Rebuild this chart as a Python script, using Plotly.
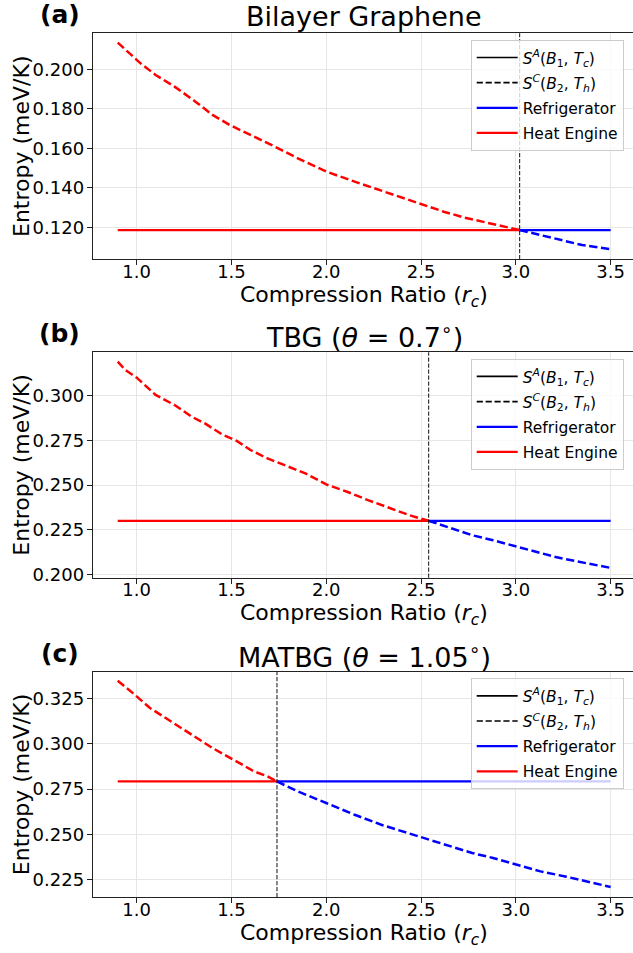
import plotly.graph_objects as go

# ---------------- data ----------------
# Panel (a) Bilayer Graphene
rc_cross_a = 3.02
S_A_a = 0.1186
rc_a_heat = [0.90, 0.96, 1.02, 1.10, 1.20, 1.31, 1.40, 1.49, 1.62, 1.73, 1.85, 2.00,
             2.15, 2.28, 2.40, 2.51, 2.62, 2.73, 2.84, 2.95, 3.02]
S_C_a_heat = [0.2135, 0.2081, 0.2030, 0.1971, 0.1912, 0.1836, 0.1769, 0.1718, 0.1659,
              0.1608, 0.1549, 0.1482, 0.1431, 0.1389, 0.1347, 0.1313, 0.1279, 0.1249,
              0.1224, 0.1200, 0.1186]
rc_a_ref = [3.02, 3.13, 3.24, 3.35, 3.50]
S_C_a_ref = [0.1186, 0.1161, 0.1136, 0.1110, 0.1089]

# Panel (b) TBG 0.7 deg
rc_cross_b = 2.54
S_A_b = 0.2300
rc_b_heat = [0.90, 0.94, 1.00, 1.10, 1.20, 1.29, 1.36, 1.45, 1.53, 1.60, 1.69, 1.78,
             1.89, 2.00, 2.11, 2.22, 2.33, 2.44, 2.54]
S_C_b_heat = [0.3193, 0.3146, 0.3103, 0.3006, 0.2949, 0.2884, 0.2846, 0.2785, 0.2747,
              0.2697, 0.2650, 0.2612, 0.2566, 0.2504, 0.2463, 0.2416, 0.2373, 0.2331,
              0.2300]
rc_b_ref = [2.54, 2.66, 2.77, 2.88, 2.99, 3.10, 3.21, 3.32, 3.41, 3.50]
S_C_b_ref = [0.2300, 0.2257, 0.2219, 0.2191, 0.2160, 0.2125, 0.2097, 0.2073, 0.2053, 0.2036]

# Panel (c) MATBG 1.05 deg
rc_cross_c = 1.74
S_A_c = 0.2792
rc_c_heat = [0.90, 0.98, 1.07, 1.18, 1.31, 1.40, 1.51, 1.62, 1.69, 1.74]
S_C_c_heat = [0.3347, 0.3279, 0.3197, 0.3123, 0.3040, 0.2976, 0.2912, 0.2847, 0.2820, 0.2792]
rc_c_ref = [1.74, 1.85, 2.00, 2.15, 2.29, 2.40, 2.51, 2.66, 2.77, 2.88, 3.01, 3.13,
            3.26, 3.37, 3.50]
S_C_c_ref = [0.2792, 0.2737, 0.2673, 0.2608, 0.2553, 0.2517, 0.2480, 0.2434, 0.2397,
             0.2370, 0.2333, 0.2296, 0.2268, 0.2241, 0.2210]

rc_min, rc_max = 0.90, 3.50

titles = ["Bilayer Graphene", "TBG (<i>θ</i> = 0.7<sup>∘</sup>)", "MATBG (<i>θ</i> = 1.05<sup>∘</sup>)"]
panel_labels = ["(a)", "(b)", "(c)"]
x_tickvals = [1.0, 1.5, 2.0, 2.5, 3.0, 3.5]
y_tickvals_a = [0.120, 0.140, 0.160, 0.180, 0.200]
y_tickvals_b = [0.200, 0.225, 0.250, 0.275, 0.300]
y_tickvals_c = [0.225, 0.250, 0.275, 0.300, 0.325]

legend_names = [
    "<i>S</i><sup><i>A</i></sup>(<i>B</i><sub>1</sub>, <i>T</i><sub><i>c</i></sub>)",
    "<i>S</i><sup><i>C</i></sup>(<i>B</i><sub>2</sub>, <i>T</i><sub><i>h</i></sub>)",
    "Refrigerator",
    "Heat Engine",
]
x_title = "Compression Ratio (<i>r</i><sub><i>c</i></sub>)"
y_title = "Entropy (meV/K)"

# ---------------- layout geometry ----------------
W, H = 633, 953
FONT = "DejaVu Sans"
ax_left = 92.7
x_range = [0.768, 3.618]
panel_px = [(33.3, 259.3), (352.3, 577.7), (671.7, 897.3)]
y_ranges = [[0.1038, 0.2182], [0.1981, 0.3245], [0.2153, 0.3397]]
y_ticks = [y_tickvals_a, y_tickvals_b, y_tickvals_c]
ax_center_x = 364.0


def fy(p):
    return 1 - p / H


panels = [
    (rc_cross_a, S_A_a, rc_a_heat, S_C_a_heat, rc_a_ref, S_C_a_ref),
    (rc_cross_b, S_A_b, rc_b_heat, S_C_b_heat, rc_b_ref, S_C_b_ref),
    (rc_cross_c, S_A_c, rc_c_heat, S_C_c_heat, rc_c_ref, S_C_c_ref),
]

RED = "#ff0000"
BLUE = "#0000ff"

fig = go.Figure()
layout = dict(
    width=W, height=H,
    margin=dict(l=0, r=0, t=0, b=0, autoexpand=False),
    paper_bgcolor="white", plot_bgcolor="white",
    font=dict(family=FONT, color="black"),
    showlegend=True,
)
annotations = []
shapes = []

for i, (rcx, sa, rh, sh, rr, sr) in enumerate(panels):
    n = i + 1
    xa = "x" if n == 1 else f"x{n}"
    ya = "y" if n == 1 else f"y{n}"
    lg = "legend" if n == 1 else f"legend{n}"
    top, bot = panel_px[i]

    # legend-only black entries
    fig.add_trace(go.Scatter(x=[None], y=[None], mode="lines", name=legend_names[0],
                             legendgroup=f"sa{n}",
                             line=dict(color="black", width=1.7),
                             xaxis=xa, yaxis=ya, legend=lg))
    fig.add_trace(go.Scatter(x=[None], y=[None], mode="lines", name=legend_names[1],
                             legendgroup=f"sc{n}",
                             line=dict(color="black", width=1.7, dash="6.2px,2.7px"),
                             xaxis=xa, yaxis=ya, legend=lg))
    # horizontal S^A lines
    fig.add_trace(go.Scatter(x=[rcx, rc_max], y=[sa, sa], mode="lines", name=legend_names[2],
                             legendgroup=f"ref{n}",
                             line=dict(color=BLUE, width=2.3),
                             xaxis=xa, yaxis=ya, legend=lg))
    fig.add_trace(go.Scatter(x=[rc_min, rcx], y=[sa, sa], mode="lines", name=legend_names[3],
                             legendgroup=f"heat{n}",
                             line=dict(color=RED, width=2.3),
                             xaxis=xa, yaxis=ya, legend=lg))
    # dashed S^C curves
    fig.add_trace(go.Scatter(x=rh, y=sh, mode="lines", showlegend=False,
                             legendgroup=f"heat{n}",
                             line=dict(color=RED, width=2.5, dash="8.3px,3.6px"),
                             xaxis=xa, yaxis=ya, legend=lg))
    fig.add_trace(go.Scatter(x=rr, y=sr, mode="lines", showlegend=False,
                             legendgroup=f"ref{n}",
                             line=dict(color=BLUE, width=2.5, dash="8.3px,3.6px"),
                             xaxis=xa, yaxis=ya, legend=lg))

    xkey = "xaxis" if n == 1 else f"xaxis{n}"
    ykey = "yaxis" if n == 1 else f"yaxis{n}"
    layout[xkey] = dict(
        domain=[ax_left / W, 1.0], range=x_range, anchor=ya, automargin=False,
        tickvals=x_tickvals, tickformat=".1f",
        ticks="outside", ticklen=5, tickwidth=1, tickcolor="#222",
        ticklabelstandoff=-9,
        showline=True, linecolor="#222", linewidth=1, mirror=True,
        showgrid=True, gridcolor="#e6e6e6", gridwidth=1, zeroline=False,
        tickfont=dict(size=18, family=FONT, color="black"),
    )
    layout[ykey] = dict(
        domain=[fy(bot), fy(top)], range=y_ranges[i], anchor=xa, automargin=False,
        tickvals=y_ticks[i], tickformat=".3f",
        ticks="outside", ticklen=5, tickwidth=1, tickcolor="#222",
        ticklabelstandoff=-1,
        showline=True, linecolor="#222", linewidth=1, mirror=False,
        showgrid=True, gridcolor="#e6e6e6", gridwidth=1, zeroline=False,
        tickfont=dict(size=18, family=FONT, color="black"),
    )
    layout[lg] = dict(
        x=470.7 / W, y=fy(top + 6.6), xanchor="left", yanchor="top",
        xref="paper", yref="paper",
        bgcolor="rgba(255,255,255,0.8)", bordercolor="#cccccc", borderwidth=1,
        font=dict(size=15.5, family=FONT, color="black"),
        itemwidth=41, tracegroupgap=2, traceorder="grouped",
    )

    shapes.append(dict(type="line", xref=xa, yref=f"{ya} domain",
                       x0=rcx, x1=rcx, y0=0, y1=1,
                       line=dict(color="rgba(0,0,0,0.85)", width=1.1, dash="4.2px,1.8px")))

    # title
    annotations.append(dict(text=titles[i], x=ax_center_x / W, y=fy(top - 16.6),
                            xref="paper", yref="paper", xanchor="center", yanchor="middle",
                            showarrow=False, font=dict(size=27, family=FONT, color="black")))
    # panel label
    annotations.append(dict(text=f"<b>{panel_labels[i]}</b>", x=60.0 / W, y=fy(top - 18.7),
                            xref="paper", yref="paper", xanchor="center", yanchor="middle",
                            showarrow=False, font=dict(size=25, family=FONT, color="black")))
    # x title
    annotations.append(dict(text=x_title, x=ax_center_x / W, y=fy(bot + 36.7),
                            xref="paper", yref="paper", xanchor="center", yanchor="middle",
                            showarrow=False, font=dict(size=22, family=FONT, color="black")))
    # y title
    annotations.append(dict(text=y_title, x=21.7 / W, y=fy((top + bot) / 2),
                            xref="paper", yref="paper", xanchor="center", yanchor="middle",
                            textangle=-90,
                            showarrow=False, font=dict(size=22, family=FONT, color="black")))

layout["annotations"] = annotations
layout["shapes"] = shapes
fig.update_layout(**layout)

fig.write_html(
    "out.html",
    config={"displayModeBar": False},
    post_script="document.body.style.margin='0';document.body.style.overflow='hidden';",
)
